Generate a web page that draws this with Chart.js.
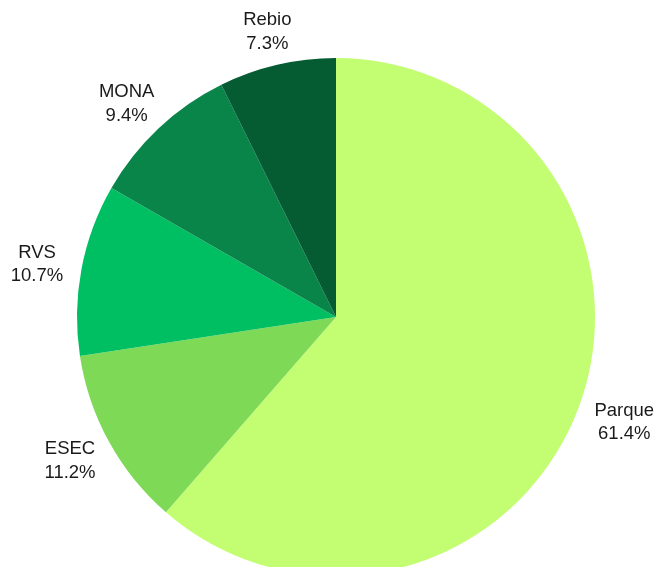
<!DOCTYPE html>
<html>
<head>
<meta charset="utf-8">
<script src="https://cdn.jsdelivr.net/npm/chart.js@4/dist/chart.umd.min.js"></script>
<style>
html,body{margin:0;padding:0;background:#fff;overflow:hidden;}
#wrap{width:658px;height:567px;overflow:hidden;position:relative;}
canvas{display:block;}
</style>
</head>
<body>
<div id="wrap"><canvas id="c" width="658" height="600"></canvas></div>
<script>
const categories = ["Parque", "ESEC", "RVS", "MONA", "Rebio"];
const values = [61.4, 11.2, 10.7, 9.4, 7.3];
const colors = ["#c2fd72", "#7ed957", "#00bf63", "#09854a", "#055c33"];

const labelPlugin = {
  id: 'outLabels',
  afterDatasetsDraw(chart) {
    const ctx = chart.ctx;
    const meta = chart.getDatasetMeta(0);
    ctx.save();
    ctx.font = '18.5px "Liberation Sans", Arial, sans-serif';
    ctx.fillStyle = '#1a1a1a';
    ctx.textAlign = 'center';
    ctx.textBaseline = 'middle';
    const lh = 23.5;
    meta.data.forEach((arc, i) => {
      const p = arc.getProps(['x','y','startAngle','endAngle','outerRadius'], true);
      const mid = (p.startAngle + p.endAngle) / 2;
      const cx = Math.cos(mid), cy = Math.sin(mid);
      const ar = p.outerRadius + 18;
      const ax = p.x + cx * ar, ay = p.y + cy * ar;
      const l1 = categories[i];
      const l2 = values[i].toFixed(1) + '%';
      const w = Math.max(ctx.measureText(l1).width, ctx.measureText(l2).width);
      const h = 36;
      const bx = ax + cx * (w / 2 + 1), by = ay + cy * h / 2 + 2;
      ctx.fillText(l1, bx, by - lh / 2);
      ctx.fillText(l2, bx, by + lh / 2);
    });
    ctx.restore();
  }
};

new Chart(document.getElementById('c'), {
  type: 'pie',
  data: {
    labels: categories,
    datasets: [{
      data: values,
      backgroundColor: colors,
      borderWidth: 0
    }]
  },
  options: {
    responsive: false,
    animation: false,
    layout: { padding: { top: 58, bottom: 24, left: 77, right: 63 } },
    plugins: {
      legend: { display: false },
      tooltip: { enabled: false }
    }
  },
  plugins: [labelPlugin]
});
</script>
</body>
</html>
